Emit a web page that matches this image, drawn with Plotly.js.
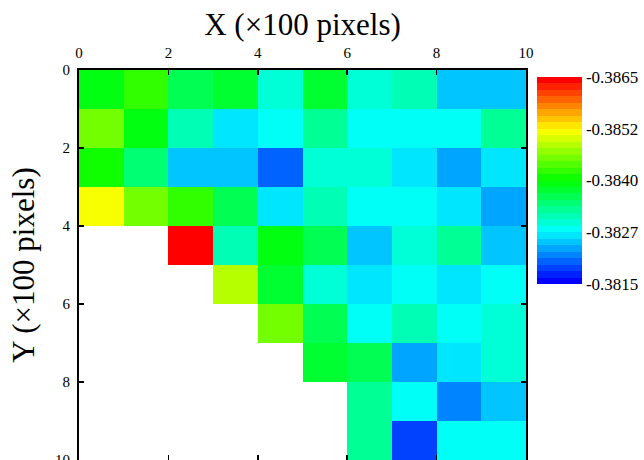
<!DOCTYPE html>
<html>
<head>
<meta charset="utf-8">
<script src="https://cdn.plot.ly/plotly-3.0.1.min.js"></script>
<style>html,body{margin:0;padding:0;background:#fff;}#chart{width:644px;height:460px;}</style>
</head>
<body>
<div id="chart"></div>
<script>
// Cell centres (×100 pixels)
const xCenters = [0.5, 1.5, 2.5, 3.5, 4.5, 5.5, 6.5, 7.5, 8.5, 9.5];
const yCenters = [0.5, 1.5, 2.5, 3.5, 4.5, 5.5, 6.5, 7.5, 8.5, 9.5];

// Values per row (null = empty cell)
const row0 = [-0.38392, -0.38423, -0.38361, -0.38377, -0.38298, -0.38377, -0.38298, -0.38314, -0.38252, -0.38252];
const row1 = [-0.38455, -0.38392, -0.38314, -0.38267, -0.38283, -0.38330, -0.38283, -0.38283, -0.38283, -0.38330];
const row2 = [-0.38408, -0.38345, -0.38252, -0.38252, -0.38205, -0.38298, -0.38298, -0.38267, -0.38236, -0.38267];
const row3 = [-0.38517, -0.38455, -0.38423, -0.38361, -0.38267, -0.38314, -0.38283, -0.38283, -0.38267, -0.38236];
const row4 = [null, null, -0.38642, -0.38314, -0.38392, -0.38361, -0.38252, -0.38298, -0.38330, -0.38252];
const row5 = [null, null, null, -0.38486, -0.38377, -0.38298, -0.38267, -0.38283, -0.38267, -0.38283];
const row6 = [null, null, null, null, -0.38455, -0.38361, -0.38283, -0.38314, -0.38283, -0.38298];
const row7 = [null, null, null, null, null, -0.38377, -0.38361, -0.38236, -0.38267, -0.38298];
const row8 = [null, null, null, null, null, null, -0.38330, -0.38283, -0.38220, -0.38252];
const row9 = [null, null, null, null, null, null, -0.38330, -0.38189, -0.38283, -0.38283];

// Colour bar range and labels
const cbTickValues = [-0.3815, -0.38275, -0.3840, -0.38525, -0.3865];
const cbTickLabels = ['-0.3815', '-0.3827', '-0.3840', '-0.3852', '-0.3865'];
const valueMax = -0.3815;   // blue end (bottom of colour bar)
const valueMin = -0.3865;   // red end (top of colour bar)

const rows = [row0, row1, row2, row3, row4, row5, row6, row7, row8, row9];
// The colour bar runs from -0.3815 (bottom) to -0.3865 (top): plot the magnitude
const zMag = rows.map(r => r.map(v => v === null ? null : -v));

// Banded rainbow colour scale (32 levels)
function rainbow(t) {
  const stops = [[0, [0,0,255]], [0.25, [0,255,255]], [0.5, [0,255,0]], [0.75, [255,255,0]], [1, [255,0,0]]];
  for (let i = 0; i < stops.length - 1; i++) {
    const [t0, c0] = stops[i], [t1, c1] = stops[i+1];
    if (t <= t1 + 1e-9) {
      const f = (t - t0) / (t1 - t0);
      const c = c0.map((a, k) => Math.round(a + (c1[k] - a) * f));
      return 'rgb(' + c.join(',') + ')';
    }
  }
  return 'rgb(255,0,0)';
}
const nBands = 32;
const colorscale = [];
for (let j = 0; j < nBands; j++) {
  const col = rainbow(j / (nBands - 1));
  colorscale.push([j / nBands, col]);
  colorscale.push([(j + 1) / nBands, col]);
}

const serif = '"Liberation Serif"';

const trace = {
  type: 'heatmap',
  x: xCenters,
  y: yCenters,
  z: zMag,
  zmin: -valueMax,
  zmax: -valueMin,
  zsmooth: false,
  colorscale: colorscale,
  hoverongaps: false,
  colorbar: {
    x: 1.0246, xanchor: 'left', xpad: 0,
    y: 0.982, yanchor: 'top', ypad: 0,
    thickness: 45, thicknessmode: 'pixels',
    len: 207, lenmode: 'pixels',
    outlinewidth: 0,
    tickmode: 'array',
    tickvals: cbTickValues.map(v => -v),
    ticktext: cbTickLabels,
    ticks: '',
    ticklabelstandoff: 0,
    tickfont: {family: serif, size: 17, color: '#000'}
  }
};

const layout = {
  width: 644, height: 460,
  margin: {l: 79, r: 118, t: 70, b: 0, pad: 0},
  paper_bgcolor: '#fff', plot_bgcolor: '#fff',
  font: {family: serif, color: '#000'},
  xaxis: {
    side: 'top', range: [0, 10], dtick: 2, tick0: 0,
    ticks: 'inside', ticklen: 5, tickwidth: 1.5, tickcolor: '#000',
    showline: true, linewidth: 2, linecolor: '#000', mirror: 'ticks',
    showgrid: false, zeroline: false,
    tickfont: {family: serif, size: 15, color: '#000'},
    ticklabelstandoff: 4,
    ticklabeloverflow: 'allow',
    title: {text: 'X (×100 pixels)', font: {family: serif, size: 31, color: '#000'}, standoff: 0},
    automargin: false
  },
  yaxis: {
    range: [10, 0], dtick: 2, tick0: 0,
    ticks: 'inside', ticklen: 5, tickwidth: 1.5, tickcolor: '#000',
    showline: true, linewidth: 2, linecolor: '#000', mirror: 'ticks',
    showgrid: false, zeroline: false,
    tickfont: {family: serif, size: 15, color: '#000'},
    ticklabelstandoff: 4,
    ticklabeloverflow: 'allow',
    title: {text: 'Y (×100 pixels)', font: {family: serif, size: 31, color: '#000'}, standoff: 11},
    automargin: false
  }
};

Plotly.newPlot('chart', [trace], layout, {displayModeBar: false, staticPlot: true});
</script>
</body>
</html>
